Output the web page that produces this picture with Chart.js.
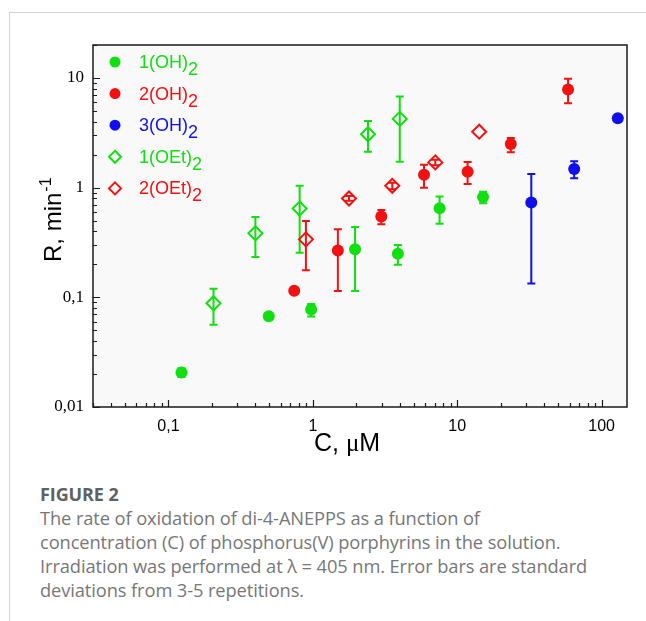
<!DOCTYPE html>
<html lang="en">
<head>
  <meta charset="UTF-8" />
  <title>Figure 2</title>
  <script src="https://cdn.jsdelivr.net/npm/chart.js"></script>
  <style>
    * { box-sizing: border-box; }
    body {
      margin: 0;
      width: 646px;
      height: 621px;
      background: #fff;
      position: relative;
      overflow: hidden;
      font-family: 'Open Sans', sans-serif;
    }
    .frame {
      position: absolute;
      left: 9px;
      top: 12px;
      right: 0;
      bottom: 0;
      border-top: 1px solid #d4d4d4;
      border-left: 1px solid #d4d4d4;
    }
    #chart {
      position: absolute;
      left: 0;
      top: 0;
    }
    .caption {
      position: absolute;
      left: 40px;
      top: 482px;
      width: 600px;
      color: #777;
      font-size: 18.3px;
      line-height: 24px;
      letter-spacing: -0.1px;
    }
    .caption b {
      display: block;
      color: #606060;
      font-size: 18px;
      margin-bottom: 0;
    }
  </style>
</head>
<body>
  <div class="frame"></div>
  <canvas id="chart" width="646" height="460"></canvas>
  <div class="caption">
    <b>FIGURE 2</b>
    The rate of oxidation of di-4-ANEPPS as a function of<br>
    concentration (C) of phosphorus(V) porphyrins in the solution.<br>
    Irradiation was performed at λ = 405 nm. Error bars are standard<br>
    deviations from 3-5 repetitions.
  </div>

  <script>
    // concentrations (uM), rates (1/min) and error bar ends
    const oh1X    = [0.123, 0.495, 0.973, 1.96, 3.88, 7.55, 15.1];
    const oh1Y    = [0.0206, 0.0671, 0.0773, 0.274, 0.25, 0.65, 0.824];
    const oh1Low  = [0.0188, null, 0.067, 0.114, 0.198, 0.47, 0.72];
    const oh1High = [0.0226, null, 0.087, 0.438, 0.30, 0.83, 0.92];

    const oh2X    = [0.743, 1.49, 2.98, 5.89, 11.8, 23.5, 58.6];
    const oh2Y    = [0.115, 0.268, 0.545, 1.31, 1.40, 2.50, 7.85];
    const oh2Low  = [null, 0.114, 0.463, 1.0, 1.08, 2.10, 5.89];
    const oh2High = [null, 0.417, 0.626, 1.62, 1.71, 2.84, 9.84];

    const oh3X    = [32.6, 64.6, 129.5];
    const oh3Y    = [0.732, 1.48, 4.30];
    const oh3Low  = [0.134, 1.22, null];
    const oh3High = [1.33, 1.74, null];

    const oet1X    = [0.205, 0.40, 0.81, 2.41, 4.0];
    const oet1Y    = [0.0883, 0.384, 0.645, 3.07, 4.24];
    const oet1Low  = [0.0562, 0.233, 0.255, 2.13, 1.72];
    const oet1High = [0.120, 0.541, 1.04, 4.06, 6.77];

    const oet2X    = [0.895, 1.78, 3.55, 7.05, 14.2];
    const oet2Y    = [0.338, 0.797, 1.04, 1.70, 3.24];
    const oet2Low  = [0.177, 0.76, 0.97, 1.60, null];
    const oet2High = [0.497, 0.84, 1.11, 1.80, null];

    const legendNames = [['1(OH)', '2'], ['2(OH)', '2'], ['3(OH)', '2'], ['1(OEt)', '2'], ['2(OEt)', '2']];
    const xRange = [0.03, 150];
    const yRange = [0.01, 20];

    const GREEN = '#10e010';
    const RED = '#f41010';
    const BLUE = '#1010ee';

    function pts(xs, ys, lo, hi) {
      return xs.map((x, i) => ({ x: x, y: ys[i], lo: lo[i], hi: hi[i] }));
    }

    function filled(label, data, color) {
      return {
        label, data,
        pointStyle: 'circle',
        pointRadius: 6,
        backgroundColor: color,
        borderColor: color,
        borderWidth: 0,
        errColor: color
      };
    }

    function open(label, data, color) {
      return {
        label, data,
        pointStyle: 'rectRot',
        pointRadius: 7,
        backgroundColor: 'rgba(0,0,0,0)',
        borderColor: color,
        borderWidth: 2,
        errColor: color
      };
    }

    const isDecade = v => Math.abs(Math.log10(v) - Math.round(Math.log10(v))) < 1e-6;
    const fmt = v => String(v).replace('.', ',');

    const framePlugin = {
      id: 'frame',
      beforeDraw(chart) {
        const a = chart.chartArea, ctx = chart.ctx;
        ctx.save();
        ctx.fillStyle = '#f9f9f9';
        ctx.fillRect(a.left, a.top, a.right - a.left, a.bottom - a.top);
        ctx.restore();
      },
      beforeDatasetsDraw(chart) {
        // error bars, through the y scale
        const ctx = chart.ctx;
        const xs = chart.scales.x, ys = chart.scales.y;
        ctx.save();
        ctx.lineWidth = 2;
        chart.data.datasets.forEach(ds => {
          ctx.strokeStyle = ds.errColor;
          ds.data.forEach(p => {
            if (p.lo == null) return;
            const px = xs.getPixelForValue(p.x);
            const y1 = ys.getPixelForValue(p.hi);
            const y2 = ys.getPixelForValue(p.lo);
            ctx.beginPath();
            ctx.moveTo(px, y1); ctx.lineTo(px, y2);
            ctx.moveTo(px - 4, y1); ctx.lineTo(px + 4, y1);
            ctx.moveTo(px - 4, y2); ctx.lineTo(px + 4, y2);
            ctx.stroke();
          });
        });
        ctx.restore();
      },
      afterDraw(chart) {
        const a = chart.chartArea, ctx = chart.ctx;
        const xs = chart.scales.x, ys = chart.scales.y;
        ctx.save();
        // box
        ctx.strokeStyle = '#1a1a1a';
        ctx.lineWidth = 1.5;
        ctx.strokeRect(a.left, a.top, a.right - a.left, a.bottom - a.top);

        // inward log ticks
        ctx.lineWidth = 1.2;
        ctx.beginPath();
        for (let d = -3; d <= 3; d++) {
          for (let m = 1; m <= 9; m++) {
            const v = m * Math.pow(10, d);
            const len = m === 1 ? 7 : 4;
            if (v >= xRange[0] && v <= xRange[1]) {
              const px = Math.round(xs.getPixelForValue(v)) + 0.5;
              ctx.moveTo(px, a.bottom); ctx.lineTo(px, a.bottom - len);
            }
            if (v >= yRange[0] && v <= yRange[1]) {
              const py = Math.round(ys.getPixelForValue(v)) + 0.5;
              ctx.moveTo(a.left, py); ctx.lineTo(a.left + len, py);
            }
          }
        }
        ctx.stroke();

        // axis titles
        ctx.fillStyle = '#000';
        ctx.textBaseline = 'alphabetic';
        ctx.font = '25px "Liberation Sans", Arial, sans-serif';
        let tx = 314, ty = 451;
        ctx.fillText('C, ', tx, ty);
        tx += ctx.measureText('C, ').width;
        ctx.font = '25px "Liberation Serif", serif';
        ctx.fillText('\u03bc', tx, ty);
        tx += ctx.measureText('\u03bc').width;
        ctx.font = '25px "Liberation Sans", Arial, sans-serif';
        ctx.fillText('M', tx, ty);

        ctx.save();
        ctx.translate(61, 262);
        ctx.rotate(-Math.PI / 2);
        ctx.font = '24px "Liberation Sans", Arial, sans-serif';
        ctx.fillText('R, min', 0, 0);
        const w = ctx.measureText('R, min').width;
        ctx.font = '16px "Liberation Sans", Arial, sans-serif';
        ctx.fillText('-1', w + 1, -10);
        ctx.restore();

        // legend inside the plot
        const colors = [GREEN, RED, BLUE, GREEN, RED];
        legendNames.forEach((n, i) => {
          const cy = 62 + i * 31.6;
          ctx.fillStyle = colors[i];
          ctx.strokeStyle = colors[i];
          if (i < 3) {
            ctx.beginPath();
            ctx.arc(115, cy, 5.5, 0, Math.PI * 2);
            ctx.fill();
          } else {
            ctx.lineWidth = 2;
            ctx.beginPath();
            ctx.moveTo(115, cy - 6); ctx.lineTo(121, cy);
            ctx.lineTo(115, cy + 6); ctx.lineTo(109, cy);
            ctx.closePath();
            ctx.stroke();
          }
          ctx.font = '18px "Liberation Sans", Arial, sans-serif';
          ctx.fillText(n[0], 139, cy + 6);
          const tw = ctx.measureText(n[0]).width;
          ctx.fillText(n[1], 139 + tw, cy + 13);
        });
        ctx.restore();
      }
    };

    new Chart(document.getElementById('chart'), {
      type: 'scatter',
      data: {
        datasets: [
          filled('1(OH)2', pts(oh1X, oh1Y, oh1Low, oh1High), GREEN),
          filled('2(OH)2', pts(oh2X, oh2Y, oh2Low, oh2High), RED),
          filled('3(OH)2', pts(oh3X, oh3Y, oh3Low, oh3High), BLUE),
          open('1(OEt)2', pts(oet1X, oet1Y, oet1Low, oet1High), GREEN),
          open('2(OEt)2', pts(oet2X, oet2Y, oet2Low, oet2High), RED)
        ]
      },
      options: {
        responsive: false,
        animation: false,
        devicePixelRatio: 1,
        layout: { padding: { top: 45, right: 19, left: 0, bottom: 0 } },
        plugins: {
          legend: { display: false },
          tooltip: { enabled: false }
        },
        scales: {
          x: {
            type: 'logarithmic',
            min: xRange[0],
            max: xRange[1],
            border: { display: false },
            grid: { display: false, drawTicks: false },
            afterFit: s => { s.height = 53; },
            ticks: {
              autoSkip: false,
              maxRotation: 0,
              padding: 10,
              color: '#000',
              font: { family: '"Liberation Sans", Arial, sans-serif', size: 16 },
              callback: v => isDecade(v) ? fmt(v) : ''
            }
          },
          y: {
            type: 'logarithmic',
            min: yRange[0],
            max: yRange[1],
            border: { display: false },
            grid: { display: false, drawTicks: false },
            afterFit: s => { s.width = 93; },
            ticks: {
              autoSkip: false,
              padding: 9,
              color: '#000',
              font: { family: '"Liberation Serif", "Times New Roman", serif', size: 17 },
              callback: v => isDecade(v) ? fmt(v) : ''
            }
          }
        }
      },
      plugins: [framePlugin]
    });
  </script>
</body>
</html>
